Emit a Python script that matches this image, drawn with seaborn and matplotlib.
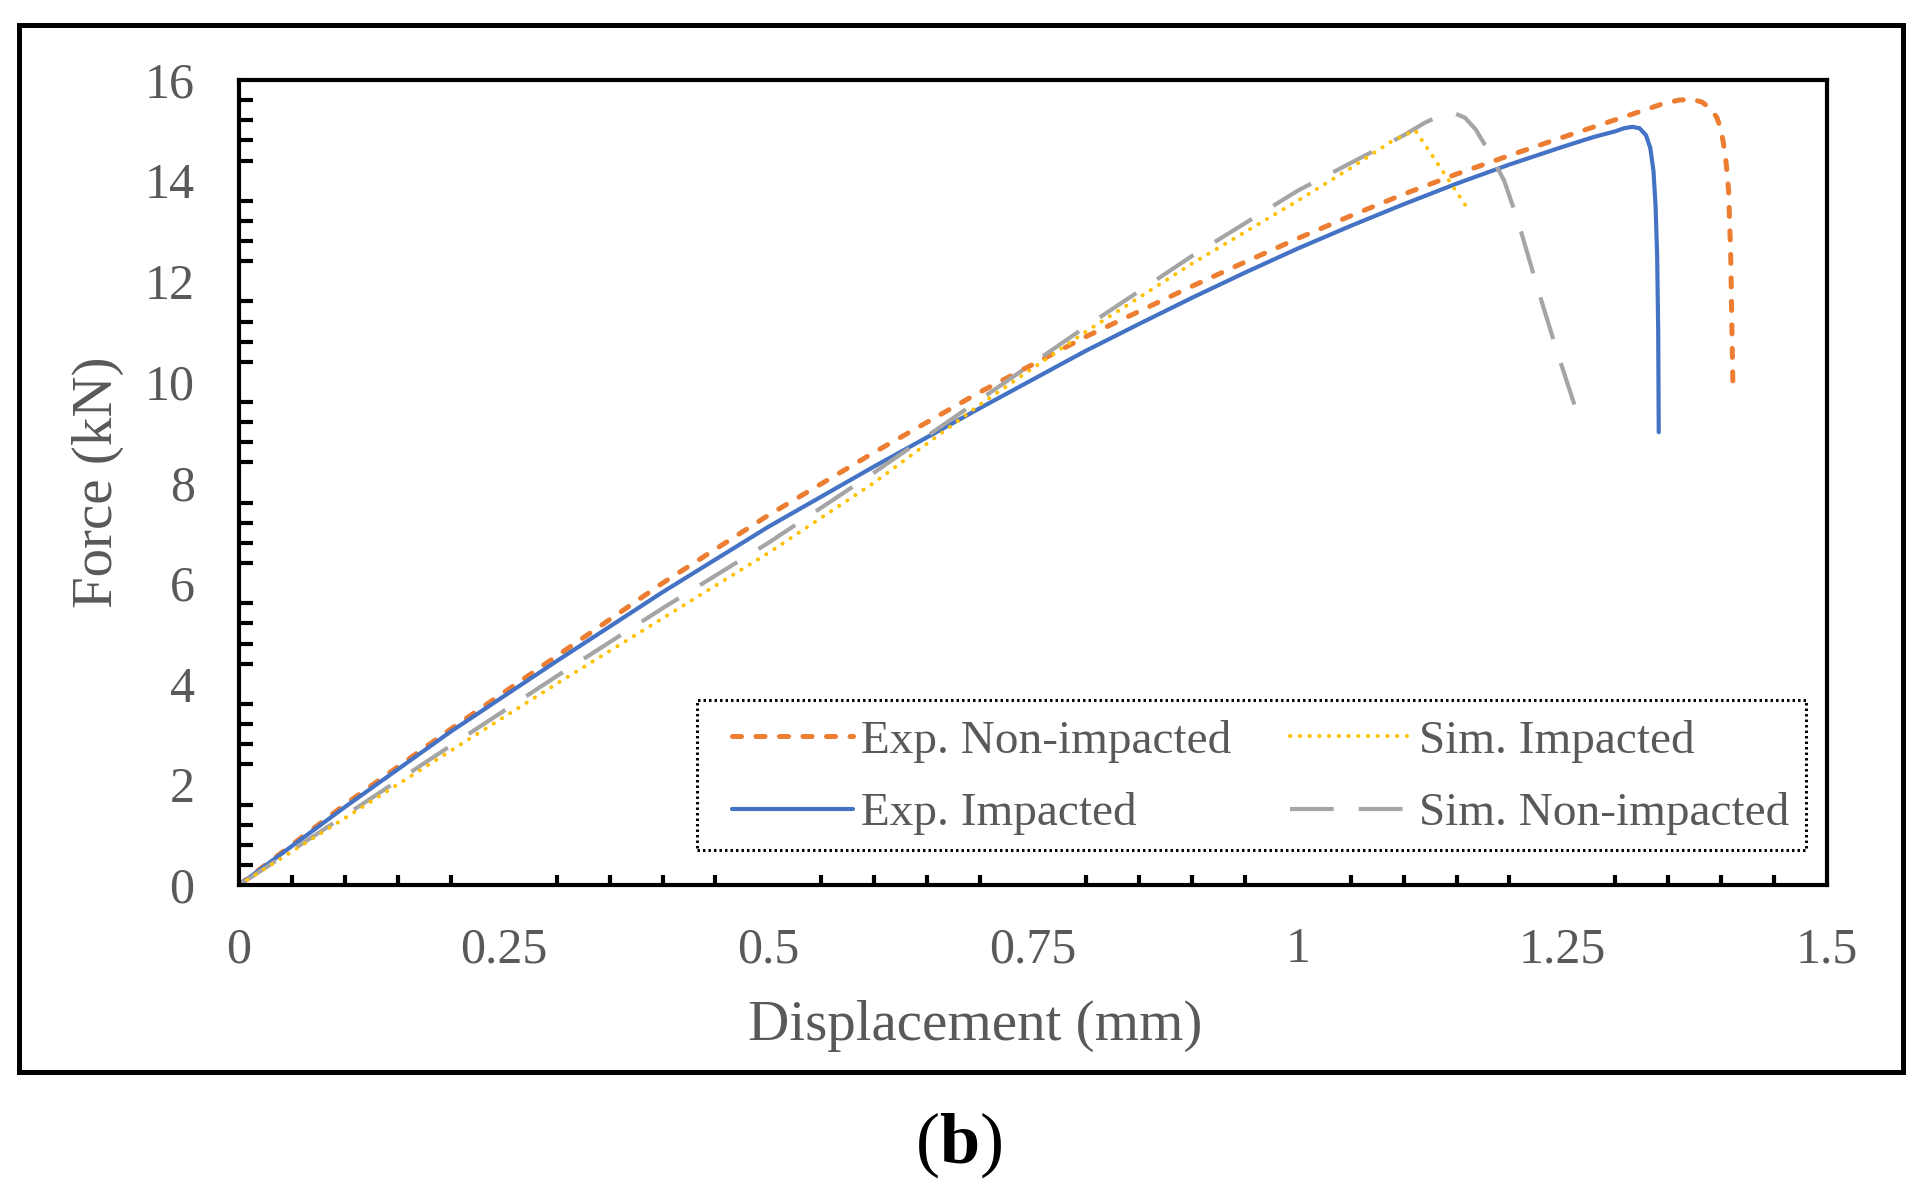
import numpy as np
import pandas as pd
import seaborn as sns
import matplotlib
matplotlib.use("Agg")
import matplotlib.pyplot as plt
from matplotlib.patches import Rectangle
from matplotlib.lines import Line2D
from matplotlib.ticker import MultipleLocator, FuncFormatter

# values (displacement mm, force kN)
exp_non_x = [0, 0.1, 0.2, 0.3, 0.4, 0.5, 0.6, 0.7, 0.8, 0.85, 0.9, 0.95, 1.0, 1.05, 1.1, 1.15,
             1.2, 1.25, 1.28, 1.31, 1.33, 1.345, 1.36, 1.372, 1.382, 1.39, 1.396, 1.4,
             1.404, 1.407, 1.409, 1.41, 1.411]
exp_non_y = [0, 1.6, 3.1, 4.55, 6.0, 7.35, 8.6, 9.8, 10.9, 11.4, 11.9, 12.38, 12.85, 13.3, 13.73, 14.13,
             14.5, 14.86, 15.07, 15.28, 15.42, 15.53, 15.6, 15.62, 15.56, 15.43, 15.25, 15.0,
             14.5, 13.8, 12.5, 11.2, 10.0]

exp_imp_x = [0, 0.1, 0.2, 0.3, 0.4, 0.5, 0.6, 0.7, 0.8, 0.85, 0.9, 0.95, 1.0, 1.05, 1.1, 1.15,
             1.2, 1.25, 1.28, 1.3, 1.308, 1.316, 1.323, 1.329, 1.333, 1.336, 1.338, 1.3395,
             1.3405, 1.341]
exp_imp_y = [0, 1.55, 3.05, 4.45, 5.82, 7.12, 8.32, 9.48, 10.62, 11.15, 11.67, 12.17, 12.65, 13.1, 13.53, 13.94,
             14.32, 14.67, 14.87, 14.98, 15.04, 15.07, 15.04, 14.9, 14.65, 14.2, 13.5, 12.5,
             11.0, 9.0]

sim_non_x = [0, 0.1, 0.2, 0.3, 0.4, 0.5, 0.6, 0.7, 0.8, 0.9, 1.0, 1.05, 1.1, 1.12, 1.135,
             1.148, 1.158, 1.168, 1.178, 1.195, 1.208, 1.227, 1.245, 1.263]
sim_non_y = [0, 1.38, 2.77, 4.15, 5.5, 6.8, 8.2, 9.65, 11.1, 12.5, 13.8, 14.35, 14.9, 15.15, 15.3,
             15.34, 15.25, 15.02, 14.67, 14.0, 13.2, 11.83, 10.6, 9.44]

sim_imp_x = [0, 0.1, 0.2, 0.3, 0.4, 0.5, 0.6, 0.7, 0.8, 0.9, 1.0, 1.05, 1.09, 1.111, 1.135, 1.16]
sim_imp_y = [0, 1.33, 2.67, 4.0, 5.3, 6.6, 8.0, 9.55, 11.0, 12.35, 13.6, 14.25, 14.8, 15.0, 14.25, 13.46]

x_ticks = [0, 0.25, 0.5, 0.75, 1, 1.25, 1.5]
y_ticks = [0, 2, 4, 6, 8, 10, 12, 14, 16]

sns.set_style("white")
plt.rcParams['font.family'] = ['Liberation Serif', 'DejaVu Serif']
plt.rcParams['mathtext.fontset'] = 'custom'
plt.rcParams['mathtext.bf'] = 'Liberation Serif:bold'
plt.rcParams['mathtext.rm'] = 'Liberation Serif'

txt = '#595959'
fig = plt.figure(figsize=(19.2, 11.87), dpi=100)
ax = fig.add_axes([0.1245, 0.2544, 0.8271, 0.6782])

series = [
    ("Exp. Non-impacted", exp_non_x, exp_non_y, '#ED7D31', 3.6, (0, (1.8, 2.9)), 'round'),
    ("Exp. Impacted", exp_imp_x, exp_imp_y, '#4472C4', 3.0, '-', 'round'),
    ("Sim. Non-impacted", sim_non_x, sim_non_y, '#A5A5A5', 3.0, (0, (10.5, 6)), 'butt'),
    ("Sim. Impacted", sim_imp_x, sim_imp_y, '#FFC000', 2.8, (0, (0.1, 2.4)), 'round'),
]
handles = {}
for name, xs, ys, col, lw, ls, cap in series:
    df = pd.DataFrame({"x": xs, "y": ys})
    sns.lineplot(data=df, x="x", y="y", ax=ax, color=col, lw=lw, ls=ls,
                 sort=False, estimator=None, dash_capstyle=cap, solid_capstyle=cap)
    handles[name] = Line2D([], [], color=col, lw=lw, ls=ls,
                           dash_capstyle=cap, solid_capstyle=cap)

ax.set_xlim(0, 1.5)
ax.set_ylim(0, 16)
ax.set_xticks(x_ticks)
ax.set_yticks(y_ticks)
ax.xaxis.set_major_formatter(FuncFormatter(lambda v, p: f"{v:g}"))
ax.xaxis.set_minor_locator(MultipleLocator(0.05))
ax.yaxis.set_minor_locator(MultipleLocator(0.4))

for s in ax.spines.values():
    s.set_visible(True)
    s.set_linewidth(3)
    s.set_color('black')

ax.tick_params(axis='both', which='major', direction='inout', length=24, width=3,
               color='black', labelsize=36, labelcolor=txt)
ax.tick_params(axis='y', which='major', pad=20)
ax.tick_params(axis='x', which='major', pad=18)
ax.tick_params(axis='y', which='minor', direction='in', length=10, width=3, color='black', left=True)
ax.tick_params(axis='x', which='minor', direction='in', length=7, width=3, color='black', bottom=True)

ax.set_xlabel("Displacement (mm)", fontsize=41, color=txt, va='center')
ax.set_ylabel("Force (kN)", fontsize=41, color=txt, va='center')
ax.xaxis.set_label_coords(0.4635, -0.175)
ax.yaxis.set_label_coords(-0.089, 0.5)

# dotted box round the legend
fig.patches.append(Rectangle((0.3630, 0.2839), 0.5776, 0.1264, transform=fig.transFigure,
                             fill=False, ec='black', lw=2.2, ls=(0, (0.8, 1.0)), zorder=5))
order = ["Exp. Non-impacted", "Exp. Impacted", "Sim. Impacted", "Sim. Non-impacted"]
leg = ax.legend([handles[k] for k in order], order, ncol=2, loc='center left',
                bbox_to_anchor=(0.3813, 0.345), bbox_transform=fig.transFigure,
                frameon=False, fontsize=34, handlelength=2.55, handletextpad=0.18,
                columnspacing=1.25, labelspacing=0.62, borderpad=0, borderaxespad=0)
for t in leg.get_texts():
    t.set_color(txt)

# outer frame
fig.patches.append(Rectangle((0.0099, 0.0969), 0.9812, 0.882, transform=fig.transFigure,
                             fill=False, ec='black', lw=3.6))

fig.text(959 / 1920, 1 - 1145 / 1187, r"($\mathbf{b}$)", ha='center', va='center',
         fontsize=52, color='black')

fig.savefig("out.png", dpi=100)
